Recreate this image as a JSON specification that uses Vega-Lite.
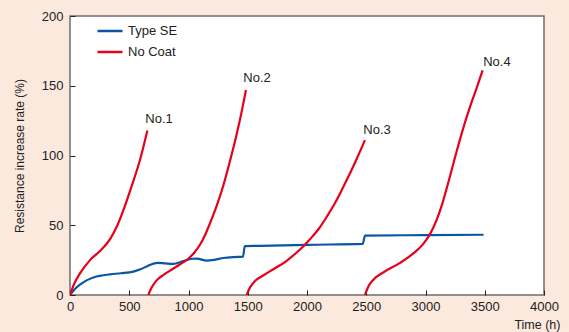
{
  "$schema": "https://vega.github.io/schema/vega-lite/v6.json",
  "width": 474,
  "height": 279,
  "autosize": {"type": "none"},
  "padding": {"left": 70, "top": 16, "right": 25, "bottom": 37},
  "background": "#fce9de",
  "config": {
    "view": {"fill": "white", "stroke": "#6e6e6e", "strokeWidth": 1.5},
    "font": "Liberation Sans"
  },
  "datasets": {
    "curves": [
      {"t": 0, "r": 0, "series": "Type SE", "id": "SE"},
      {"t": 40, "r": 4.2, "series": "Type SE", "id": "SE"},
      {"t": 84, "r": 7.4, "series": "Type SE", "id": "SE"},
      {"t": 140, "r": 10.5, "series": "Type SE", "id": "SE"},
      {"t": 197, "r": 12.6, "series": "Type SE", "id": "SE"},
      {"t": 270, "r": 14, "series": "Type SE", "id": "SE"},
      {"t": 338, "r": 14.8, "series": "Type SE", "id": "SE"},
      {"t": 430, "r": 15.6, "series": "Type SE", "id": "SE"},
      {"t": 534, "r": 16.8, "series": "Type SE", "id": "SE"},
      {"t": 600, "r": 18.6, "series": "Type SE", "id": "SE"},
      {"t": 660, "r": 21, "series": "Type SE", "id": "SE"},
      {"t": 740, "r": 23, "series": "Type SE", "id": "SE"},
      {"t": 800, "r": 22.7, "series": "Type SE", "id": "SE"},
      {"t": 872, "r": 22.3, "series": "Type SE", "id": "SE"},
      {"t": 956, "r": 24.3, "series": "Type SE", "id": "SE"},
      {"t": 1030, "r": 26, "series": "Type SE", "id": "SE"},
      {"t": 1070, "r": 26.1, "series": "Type SE", "id": "SE"},
      {"t": 1153, "r": 24.6, "series": "Type SE", "id": "SE"},
      {"t": 1220, "r": 25.2, "series": "Type SE", "id": "SE"},
      {"t": 1294, "r": 26.5, "series": "Type SE", "id": "SE"},
      {"t": 1380, "r": 27.2, "series": "Type SE", "id": "SE"},
      {"t": 1460, "r": 27.5, "series": "Type SE", "id": "SE"},
      {"t": 1475, "r": 35, "series": "Type SE", "id": "SE"},
      {"t": 1600, "r": 35.2, "series": "Type SE", "id": "SE"},
      {"t": 2000, "r": 36, "series": "Type SE", "id": "SE"},
      {"t": 2470, "r": 36.6, "series": "Type SE", "id": "SE"},
      {"t": 2490, "r": 42.6, "series": "Type SE", "id": "SE"},
      {"t": 3000, "r": 42.9, "series": "Type SE", "id": "SE"},
      {"t": 3490, "r": 43.2, "series": "Type SE", "id": "SE"},

      {"t": 0, "r": 0, "series": "No Coat", "id": "N1"},
      {"t": 30, "r": 7, "series": "No Coat", "id": "N1"},
      {"t": 84, "r": 15.5, "series": "No Coat", "id": "N1"},
      {"t": 169, "r": 25, "series": "No Coat", "id": "N1"},
      {"t": 253, "r": 31.5, "series": "No Coat", "id": "N1"},
      {"t": 338, "r": 40, "series": "No Coat", "id": "N1"},
      {"t": 400, "r": 50, "series": "No Coat", "id": "N1"},
      {"t": 460, "r": 63, "series": "No Coat", "id": "N1"},
      {"t": 520, "r": 78, "series": "No Coat", "id": "N1"},
      {"t": 591, "r": 97, "series": "No Coat", "id": "N1"},
      {"t": 653, "r": 118, "series": "No Coat", "id": "N1"},

      {"t": 661, "r": 0, "series": "No Coat", "id": "N2"},
      {"t": 690, "r": 5.5, "series": "No Coat", "id": "N2"},
      {"t": 731, "r": 10.5, "series": "No Coat", "id": "N2"},
      {"t": 790, "r": 14.5, "series": "No Coat", "id": "N2"},
      {"t": 844, "r": 17.5, "series": "No Coat", "id": "N2"},
      {"t": 920, "r": 21.5, "series": "No Coat", "id": "N2"},
      {"t": 998, "r": 26, "series": "No Coat", "id": "N2"},
      {"t": 1050, "r": 30.5, "series": "No Coat", "id": "N2"},
      {"t": 1097, "r": 36, "series": "No Coat", "id": "N2"},
      {"t": 1140, "r": 43, "series": "No Coat", "id": "N2"},
      {"t": 1181, "r": 51.4, "series": "No Coat", "id": "N2"},
      {"t": 1240, "r": 64.5, "series": "No Coat", "id": "N2"},
      {"t": 1294, "r": 78.5, "series": "No Coat", "id": "N2"},
      {"t": 1350, "r": 96, "series": "No Coat", "id": "N2"},
      {"t": 1406, "r": 115, "series": "No Coat", "id": "N2"},
      {"t": 1450, "r": 132, "series": "No Coat", "id": "N2"},
      {"t": 1485, "r": 147, "series": "No Coat", "id": "N2"},

      {"t": 1491, "r": 0, "series": "No Coat", "id": "N3"},
      {"t": 1520, "r": 5.5, "series": "No Coat", "id": "N3"},
      {"t": 1561, "r": 10, "series": "No Coat", "id": "N3"},
      {"t": 1640, "r": 14.5, "series": "No Coat", "id": "N3"},
      {"t": 1716, "r": 18.5, "series": "No Coat", "id": "N3"},
      {"t": 1820, "r": 24, "series": "No Coat", "id": "N3"},
      {"t": 1913, "r": 30.5, "series": "No Coat", "id": "N3"},
      {"t": 1970, "r": 35, "series": "No Coat", "id": "N3"},
      {"t": 2025, "r": 40, "series": "No Coat", "id": "N3"},
      {"t": 2100, "r": 47.5, "series": "No Coat", "id": "N3"},
      {"t": 2166, "r": 56, "series": "No Coat", "id": "N3"},
      {"t": 2240, "r": 66.5, "series": "No Coat", "id": "N3"},
      {"t": 2307, "r": 77.6, "series": "No Coat", "id": "N3"},
      {"t": 2370, "r": 88.5, "series": "No Coat", "id": "N3"},
      {"t": 2419, "r": 97.5, "series": "No Coat", "id": "N3"},
      {"t": 2489, "r": 111, "series": "No Coat", "id": "N3"},

      {"t": 2489, "r": 0, "series": "No Coat", "id": "N4"},
      {"t": 2520, "r": 6.5, "series": "No Coat", "id": "N4"},
      {"t": 2560, "r": 11, "series": "No Coat", "id": "N4"},
      {"t": 2650, "r": 16.5, "series": "No Coat", "id": "N4"},
      {"t": 2785, "r": 23, "series": "No Coat", "id": "N4"},
      {"t": 2900, "r": 30, "series": "No Coat", "id": "N4"},
      {"t": 2980, "r": 36.5, "series": "No Coat", "id": "N4"},
      {"t": 3040, "r": 44, "series": "No Coat", "id": "N4"},
      {"t": 3090, "r": 53, "series": "No Coat", "id": "N4"},
      {"t": 3140, "r": 65, "series": "No Coat", "id": "N4"},
      {"t": 3200, "r": 83, "series": "No Coat", "id": "N4"},
      {"t": 3263, "r": 103, "series": "No Coat", "id": "N4"},
      {"t": 3320, "r": 120, "series": "No Coat", "id": "N4"},
      {"t": 3376, "r": 135, "series": "No Coat", "id": "N4"},
      {"t": 3430, "r": 148, "series": "No Coat", "id": "N4"},
      {"t": 3482, "r": 161, "series": "No Coat", "id": "N4"}
    ],
    "labels": [
      {"t": 751, "r": 126.5, "label": "No.1"},
      {"t": 1578, "r": 155.5, "label": "No.2"},
      {"t": 2591, "r": 118, "label": "No.3"},
      {"t": 3603, "r": 167, "label": "No.4"}
    ]
  },
  "layer": [
    {
      "data": {"name": "curves"},
      "mark": {"type": "line", "interpolate": "monotone", "strokeWidth": 2.2, "clip": true},
      "encoding": {
        "x": {
          "field": "t", "type": "quantitative",
          "scale": {"domain": [0, 4000], "nice": false},
          "axis": {
            "values": [0, 500, 1000, 1500, 2000, 2500, 3000, 3500, 4000],
            "format": "d",
            "title": "Time (h)",
            "titleFont": "Liberation Sans", "titleFontSize": 12.5, "titleFontWeight": "normal", "titleColor": "#222",
            "titleAnchor": "end", "titleAlign": "right", "titleX": 490, "titleY": 36, "titleBaseline": "bottom",
            "labelFont": "Liberation Sans", "labelFontSize": 13, "labelColor": "#222",
            "labelPadding": 10, "labelFlush": false,
            "tickSize": -5, "tickColor": "#222", "tickWidth": 1,
            "domain": false, "grid": false
          }
        },
        "y": {
          "field": "r", "type": "quantitative",
          "scale": {"domain": [0, 200], "nice": false},
          "axis": {
            "values": [0, 50, 100, 150, 200],
            "title": "Resistance increase rate (%)",
            "titleFont": "Liberation Sans", "titleFontSize": 12, "titleFontWeight": "normal", "titleColor": "#222",
            "titlePadding": 15,
            "labelFont": "Liberation Sans", "labelFontSize": 13, "labelColor": "#222",
            "labelPadding": 12, "labelFlush": false,
            "tickSize": -5, "tickColor": "#222", "tickWidth": 1,
            "domain": false, "grid": false
          }
        },
        "color": {
          "field": "series", "type": "nominal",
          "scale": {"domain": ["Type SE", "No Coat"], "range": ["#0b56a3", "#e60019"]},
          "legend": {
            "title": null, "orient": "none", "legendX": 26, "legendY": 1,
            "symbolType": "stroke", "symbolSize": 625, "symbolStrokeWidth": 2.5,
            "labelFont": "Liberation Sans", "labelFontSize": 13, "labelColor": "#222",
            "rowPadding": -3, "labelOffset": 4
          }
        },
        "detail": {"field": "id"}
      }
    },
    {
      "data": {"name": "labels"},
      "mark": {"type": "text", "font": "Liberation Sans", "fontSize": 13, "color": "#222", "align": "center", "baseline": "middle"},
      "encoding": {
        "x": {"field": "t", "type": "quantitative"},
        "y": {"field": "r", "type": "quantitative"},
        "text": {"field": "label"}
      }
    }
  ]
}
